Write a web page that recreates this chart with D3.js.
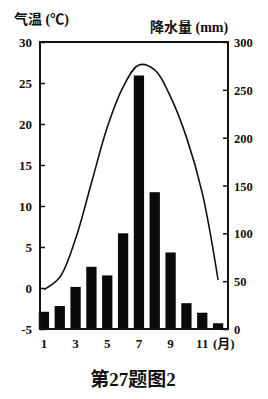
<!DOCTYPE html>
<html><head><meta charset="utf-8">
<script src="https://cdn.jsdelivr.net/npm/d3@7"></script>
<style>
html,body{margin:0;padding:0;background:#fff;}
text{font-family:"Liberation Serif","Noto Sans CJK SC",serif;fill:#111;}
</style></head>
<body>
<svg id="c" width="268" height="399"></svg>
<script>
const months = [1,2,3,4,5,6,7,8,9,10,11,12];
const monthLabels = ["1","3","5","7","9","11"];
const precip = [18, 24, 44, 65, 56, 100, 265, 143, 80, 27, 17, 6];
const temp = [-0.2, 1.3, 6, 12.8, 19.6, 24.5, 27.2, 26.6, 23.3, 18.4, 11.6, 1];
const tempTicks = [-5,0,5,10,15,20,25,30];
const precipTicks = [0,50,100,150,200,250,300];

const svg = d3.select("#c");
const L = 40, R = 228, T = 42, B = 329;

const x = d3.scaleBand().domain(months).range([36, 226]).paddingInner(0.35).paddingOuter(0.175);
const yT = d3.scaleLinear().domain([-5,30]).range([B,T]);
const yP = d3.scaleLinear().domain([0,300]).range([B,T]);

// bars
svg.append("g").selectAll("rect").data(precip).join("rect")
  .attr("x",(d,i)=>x(months[i]))
  .attr("width",x.bandwidth())
  .attr("y",d=>yP(d))
  .attr("height",d=>B-yP(d))
  .attr("fill","#0a0a0a");

// frame
svg.append("rect").attr("x",L).attr("y",T).attr("width",R-L).attr("height",B-T)
  .attr("fill","none").attr("stroke","#111").attr("stroke-width",2);

// left axis
const la = svg.append("g").attr("transform",`translate(${L},0)`)
  .call(d3.axisRight(yT).tickValues(tempTicks).tickSize(5).tickFormat(""));
la.select(".domain").remove();
la.selectAll("line").attr("stroke","#111").attr("stroke-width",1.5);
svg.append("g").selectAll("text").data(tempTicks).join("text")
  .attr("x",L-8).attr("y",d=>yT(d)+4.5).attr("text-anchor","end")
  .attr("font-size",13).attr("font-weight","bold").text(d=>d);

// right axis
const ra = svg.append("g").attr("transform",`translate(${R},0)`)
  .call(d3.axisLeft(yP).tickValues(precipTicks).tickSize(5).tickFormat(""));
ra.select(".domain").remove();
ra.selectAll("line").attr("stroke","#111").attr("stroke-width",1.5);
svg.append("g").selectAll("text").data(precipTicks).join("text")
  .attr("x",R+6).attr("y",d=>yP(d)+5).attr("text-anchor","start")
  .attr("font-size",12.5).attr("font-weight","bold").text(d=>d);

// temperature curve
const line = d3.line()
  .x((d,i)=>x(months[i])+x.bandwidth()/2)
  .y(d=>yT(d))
  .curve(d3.curveCatmullRom.alpha(0.5));
svg.append("path").datum(temp).attr("d",line)
  .attr("fill","none").attr("stroke","#111").attr("stroke-width",1.6);

// x labels
svg.append("g").selectAll("text").data(monthLabels).join("text")
  .attr("x",d=>x(+d)+x.bandwidth()/2).attr("y",348).attr("text-anchor","middle")
  .attr("font-size",13).attr("font-weight","bold").text(d=>d);
svg.append("text").attr("x",213).attr("y",348).attr("font-size",13).attr("font-weight","bold").text("(月)");

// axis titles
svg.append("text").attr("x",14).attr("y",24).attr("font-size",14).attr("font-weight","bold").text("气温 (℃)");
svg.append("text").attr("x",150).attr("y",32).attr("font-size",14).attr("font-weight","bold").text("降水量 (mm)");

// caption
svg.append("text").attr("x",133).attr("y",386).attr("text-anchor","middle")
  .attr("font-size",19).attr("font-weight","bold").text("第27题图2");
</script>
</body></html>
